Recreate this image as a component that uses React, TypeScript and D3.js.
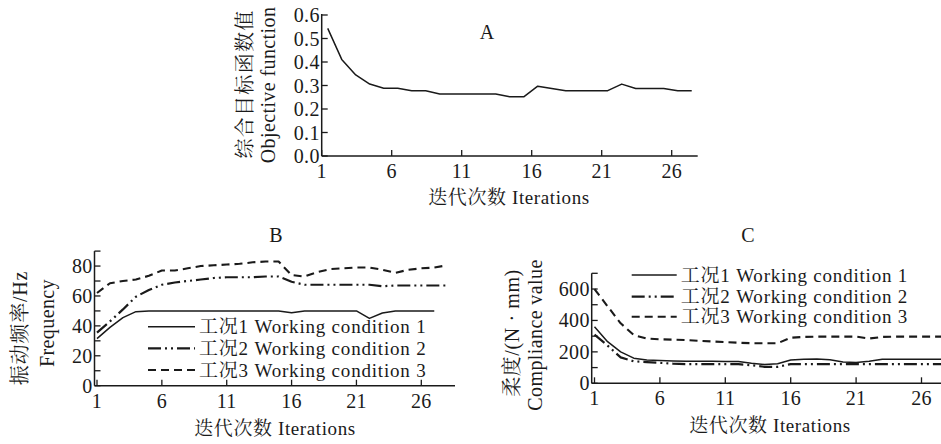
import React, { useEffect, useRef } from "react";
import * as d3 from "d3";

// iterations shown on every x axis
const iterTicks = [1, 6, 11, 16, 21, 26];

// A: objective function per iteration
const objective = [0.543, 0.411, 0.345, 0.306, 0.288, 0.288, 0.278, 0.278, 0.264, 0.264, 0.264, 0.264, 0.264, 0.252, 0.252, 0.297, 0.287, 0.278, 0.278, 0.278, 0.278, 0.306, 0.287, 0.287, 0.287, 0.278, 0.278];
const objTicks = [0, 0.1, 0.2, 0.3, 0.4, 0.5, 0.6];

// B: frequency (Hz) for the three working conditions
const freq1 = [31.5, 39, 45.5, 49.5, 50, 50, 50, 50, 50, 50, 50, 50, 50, 50, 50, 48.8, 50, 50, 50, 50, 50, 45, 48.6, 50, 50, 50, 50];
const freq2 = [35.5, 43, 51, 59.5, 64, 67.5, 69, 70, 71, 72, 72.5, 72.5, 72.5, 73, 73, 69.5, 67.5, 67.5, 67.5, 67.5, 67.5, 67.5, 66.5, 67, 67, 67, 67, 67];
const freq3 = [62, 68.5, 70, 71, 73.5, 77, 77, 78.5, 80, 80.5, 81, 81.5, 82.5, 83, 83, 74, 73, 76, 78, 78.5, 79, 79, 77.5, 75.5, 77.5, 78.5, 79, 80.5];
const freqTicks = [0, 10, 20, 30, 40, 50, 60, 70, 80, 90];
const freqLabels = [0, 20, 40, 60, 80];

// C: compliance (N·mm) for the three working conditions
const compl1 = [360, 265, 200, 160, 148, 145, 142, 140, 140, 140, 138, 138, 128, 120, 125, 148, 153, 155, 150, 135, 132, 140, 153, 153, 153, 153, 153, 153];
const compl2 = [310, 240, 165, 140, 135, 130, 125, 122, 122, 122, 122, 122, 115, 105, 105, 122, 122, 122, 122, 122, 122, 122, 122, 122, 122, 122, 122, 122];
const compl3 = [600, 490, 382, 307, 285, 280, 278, 275, 270, 266, 262, 258, 255, 255, 255, 290, 295, 297, 297, 297, 297, 285, 295, 297, 297, 297, 297, 297];
const complTicks = [0, 100, 200, 300, 400, 500, 600, 700];
const complLabels = [0, 200, 400, 600];

const legendNames = ["工况1 Working condition 1", "工况2 Working condition 2", "工况3 Working condition 3"];

const FONT = "'Liberation Serif', 'Times New Roman', 'Noto Serif CJK SC', 'Noto Sans CJK SC', serif";
const INK = "#1a1a1a";
const styles = [
  { w: 1.5, dash: null },
  { w: 2.2, dash: "13,4,2,4,2,4" },
  { w: 2.1, dash: "8,5" },
];

export default function App() {
  const ref = useRef(null);
  useEffect(() => {
    const node = ref.current; if (!node) return;
    const svg = d3.select(node);
    svg.selectAll("*").remove();
    const root = svg.append("g").attr("font-family", FONT);

    const txt = (x, y, s, size = 19, anchor = "middle", rot = 0, ls = 0.4) => {
      const t = root.append("text").attr("text-anchor", anchor).attr("dominant-baseline", "central")
        .attr("fill", INK).attr("font-size", size).attr("letter-spacing", ls).text(s);
      if (rot) t.attr("transform", `translate(${x},${y}) rotate(${rot})`);
      else t.attr("x", x).attr("y", y);
      return t;
    };

    function panel(cfg) {
      const { x, y, xa, ya, yTicks, yLabels, fmt, series, shift } = cfg;
      const g = root.append("g");
      const y0 = y.range()[0];
      // axes
      g.append("line").attr("x1", xa[0]).attr("x2", xa[1]).attr("y1", y0).attr("y2", y0).attr("stroke", INK).attr("stroke-width", 1.5);
      g.append("line").attr("x1", xa[0]).attr("x2", xa[0]).attr("y1", y0).attr("y2", ya).attr("stroke", INK).attr("stroke-width", 1.5);
      iterTicks.forEach((t) => {
        g.append("line").attr("x1", x(t)).attr("x2", x(t)).attr("y1", y0).attr("y2", y0 - 6).attr("stroke", INK).attr("stroke-width", 1.3);
        txt(x(t), y0 + 15, String(t), 20, "middle", 0, 0.3);
      });
      yTicks.forEach((t) => {
        g.append("line").attr("x1", xa[0]).attr("x2", xa[0] + 6).attr("y1", y(t)).attr("y2", y(t)).attr("stroke", INK).attr("stroke-width", 1.3);
      });
      yLabels.forEach((t) => txt(xa[0] - 2, y(t), fmt(t), 20, "end", 0, 0.3));
      // lines, clipped at the axis and the picture edge
      const clip = "clip" + cfg.id;
      g.append("clipPath").attr("id", clip).append("rect").attr("x", xa[0]).attr("y", 0).attr("width", 941 - xa[0]).attr("height", 444);
      series.forEach((vals, k) => {
        const line = d3.line().x((d, i) => x(i + 1 + shift)).y((d) => y(d));
        const p = g.append("path").datum(vals).attr("d", line).attr("fill", "none").attr("stroke", INK)
          .attr("stroke-width", styles[k].w).attr("stroke-linejoin", "round").attr("clip-path", `url(#${clip})`);
        if (styles[k].dash) p.attr("stroke-dasharray", styles[k].dash);
      });
    }

    // ---- A ----
    const xA = d3.scaleLinear().domain([1, 26]).range([321.7, 671.7]);
    const yA = d3.scaleLinear().domain([0, 0.6]).range([156, 15]);
    panel({ id: "A", x: xA, y: yA, xa: [321.7, 697.7], ya: 14, yTicks: objTicks, yLabels: objTicks, fmt: d3.format(".1f"), series: [objective], shift: 0.43 });
    txt(487, 32, "A", 20, "middle", 0, 0);
    txt(245, 84, "综合目标函数值", 20, "middle", -90, 1.3);
    txt(268, 85, "Objective function", 20, "middle", -90, 0.4);
    txt(509, 197, "迭代次数  Iterations", 19, "middle", 0, 0.6);

    // ---- B ----
    const xB = d3.scaleLinear().domain([1, 26]).range([97, 421.3]);
    const yB = d3.scaleLinear().domain([0, 90]).range([385.7, 251.1]);
    panel({ id: "B", x: xB, y: yB, xa: [94.5, 455], ya: 251.1, yTicks: freqTicks, yLabels: freqLabels, fmt: d3.format("d"), series: [freq1, freq2, freq3], shift: 0 });
    txt(276, 235, "B", 20, "middle", 0, 0);
    txt(20, 328, "振动频率/Hz", 20, "middle", -90, 0.8);
    txt(46.5, 323, "Frequency", 20, "middle", -90, 0.4);
    txt(275, 428, "迭代次数  Iterations", 19, "middle", 0, 0.6);

    // ---- C ----
    const xC = d3.scaleLinear().domain([1, 26]).range([594.5, 921.5]);
    const yC = d3.scaleLinear().domain([0, 700]).range([383.3, 273.3]);
    panel({ id: "C", x: xC, y: yC, xa: [591.7, 941], ya: 273.3, yTicks: complTicks, yLabels: complLabels, fmt: d3.format("d"), series: [compl1, compl2, compl3], shift: 0 });
    txt(748, 235, "C", 20, "middle", 0, 0);
    txt(511.5, 333, "柔度/(N · mm)", 20, "middle", -90, 0.6);
    txt(535, 335, "Compliance value", 20, "middle", -90, 0.4);
    txt(770, 425, "迭代次数  Iterations", 19, "middle", 0, 0.6);

    // legends
    const legend = (x0, x1, rows) => {
      legendNames.forEach((name, k) => {
        const l = root.append("line").attr("x1", x0).attr("x2", x1).attr("y1", rows[k]).attr("y2", rows[k])
          .attr("stroke", INK).attr("stroke-width", styles[k].w);
        if (styles[k].dash) l.attr("stroke-dasharray", styles[k].dash);
        txt(x1 + 4, rows[k], name, 19, "start", 0, 0.8);
      });
    };
    legend(148, 195, [326.7, 348.3, 370]);
    legend(631.7, 676.7, [275, 296.7, 316.7]);
  }, []);
  return <svg ref={ref} width={941} height={444} style={{ position: "absolute", left: 0, top: 0, background: "#fff" }} />;
}
